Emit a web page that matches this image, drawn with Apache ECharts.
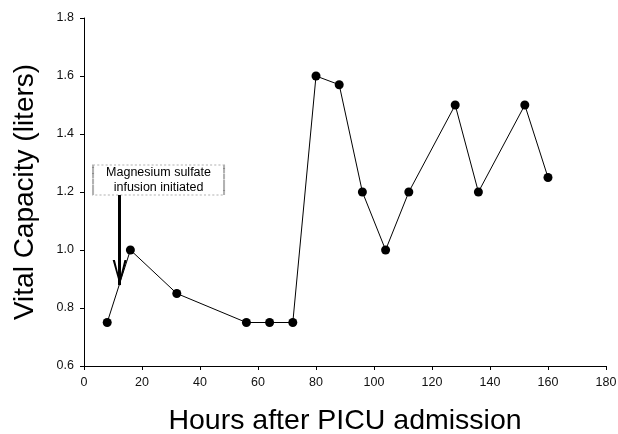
<!DOCTYPE html>
<html>
<head>
<meta charset="utf-8">
<script src="https://cdn.jsdelivr.net/npm/echarts@6/dist/echarts.min.js"></script>
<style>
html,body{margin:0;padding:0;background:#fff;}
#chart{width:618px;height:434px;}
</style>
</head>
<body>
<div id="chart"></div>
<script>
var hours = [8, 16, 32, 56, 64, 72, 80, 88, 96, 104, 112, 128, 136, 152, 160];
var vitalCapacity = [0.75, 1.0, 0.85, 0.75, 0.75, 0.75, 1.6, 1.57, 1.2, 1.0, 1.2, 1.5, 1.2, 1.5, 1.25];
var xAxisTitle = 'Hours after PICU admission';
var yAxisTitle = 'Vital Capacity (liters)';
var annotationText = 'Magnesium sulfate\ninfusion initiated';
var annotationBoxAt = [25.7, 1.241];
var arrowFrom = [12.3, 1.19];
var arrowTo = [12.3, 0.879];

var points = hours.map(function (h, i) { return [h, vitalCapacity[i]]; });
var font = '"Liberation Sans", Arial, Helvetica, sans-serif';

var chart = echarts.init(document.getElementById('chart'), null, {renderer: 'canvas'});
chart.setOption({
  animation: false,
  backgroundColor: '#fff',
  grid: {left: 84, right: 12, top: 18, bottom: 68, containLabel: false, outerBoundsMode: 'none'},
  xAxis: {
    type: 'value', min: 0, max: 180, interval: 20,
    name: xAxisTitle, nameLocation: 'middle', nameGap: 41,
    nameTextStyle: {fontSize: 28.5, color: '#000', fontFamily: font},
    axisLine: {show: true, onZero: false, lineStyle: {color: '#000', width: 1}},
    axisTick: {show: true, length: 4, lineStyle: {color: '#000'}},
    axisLabel: {fontSize: 12.5, color: '#111', fontFamily: font, margin: 10},
    splitLine: {show: false}
  },
  yAxis: {
    type: 'value', min: 0.6, max: 1.8, interval: 0.2,
    name: yAxisTitle, nameLocation: 'middle', nameGap: 45,
    nameTextStyle: {fontSize: 28, color: '#000', fontFamily: font},
    axisLine: {show: true, onZero: false, lineStyle: {color: '#000', width: 1}},
    axisTick: {show: true, length: 4, lineStyle: {color: '#000'}},
    axisLabel: {fontSize: 12.5, color: '#111', fontFamily: font, margin: 10,
      formatter: function (v) { return v.toFixed(1); }},
    splitLine: {show: false}
  },
  series: [{
    type: 'line',
    data: points,
    symbol: 'circle',
    symbolSize: 9,
    lineStyle: {color: '#000', width: 1},
    itemStyle: {color: '#000'},
    markLine: {
      silent: true,
      symbol: ['none', 'none'],
      label: {show: false},
      lineStyle: {color: '#000', width: 3, type: 'solid'},
      data: [[{coord: arrowFrom}, {coord: arrowTo}]]
    },
    markPoint: {
      silent: true,
      data: [
        {
          coord: arrowTo,
          symbol: 'path://M0,0 L16,0 L50,78 L84,0 L100,0 L50,100 Z',
          symbolSize: [14, 25],
          symbolOffset: [0, -12.5],
          itemStyle: {color: '#000'},
          label: {show: false}
        },
        {
          coord: annotationBoxAt,
          symbol: 'rect',
          symbolSize: [131, 30],
          itemStyle: {color: '#fff', borderColor: '#666', borderWidth: 1, borderType: 'dotted'},
          label: {
            show: true, position: 'inside', formatter: annotationText,
            fontSize: 12.5, lineHeight: 15, color: '#000', fontFamily: font
          }
        }
      ]
    }
  }]
});
</script>
</body>
</html>
